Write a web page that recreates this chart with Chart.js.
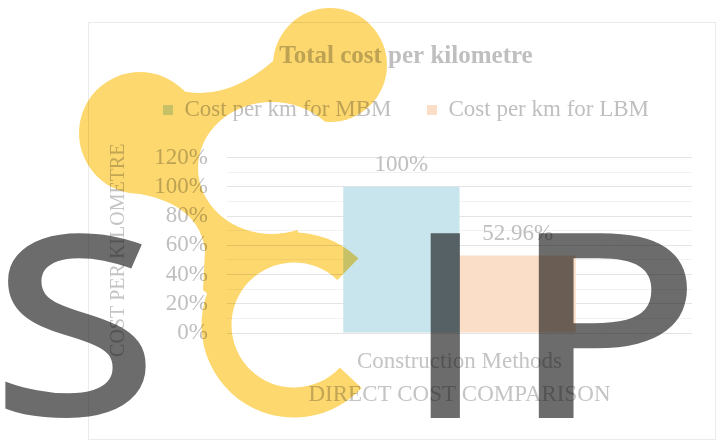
<!DOCTYPE html>
<html>
<head>
<meta charset="utf-8">
<script src="https://cdn.jsdelivr.net/npm/chart.js@4.4.1/dist/chart.umd.min.js"></script>
<style>
    html, body { margin: 0; padding: 0; background: #ffffff; }
    #wrap { width: 717px; height: 441px; }
</style>
</head>
<body>
<div id="wrap"><canvas id="costChart" width="717" height="441"></canvas></div>
<script>
// --- Chart data ---
const categories = [''];
const seriesNames = ['Cost per km for MBM', 'Cost per km for LBM'];
const mbmCost = [100];
const lbmCost = [52.96];
const barColors = ['#c8e4ec', '#fbdec7'];

const textGrey = '#bfbfbf';
const serif = "'Liberation Serif', 'Times New Roman', serif";

// --- SCIP watermark (yellow blob + letters), multiplied over the chart ---
function fitLetter(g, ch, x0, y0, x1, y1) {
    const lw = 6; // thickens the regular weight a bit
    g.save();
    g.font = "200px 'Open Sans', 'DejaVu Sans', sans-serif";
    g.textAlign = 'left';
    g.textBaseline = 'alphabetic';
    const m = g.measureText(ch);
    const w = m.actualBoundingBoxLeft + m.actualBoundingBoxRight + lw;
    const h = m.actualBoundingBoxAscent + m.actualBoundingBoxDescent + lw;
    const sx = (x1 - x0) / w, sy = (y1 - y0) / h;
    g.translate(x0 + (m.actualBoundingBoxLeft + lw / 2) * sx, y0 + (m.actualBoundingBoxAscent + lw / 2) * sy);
    g.scale(sx, sy);
    g.lineWidth = lw;
    g.lineJoin = 'miter';
    g.fillText(ch, 0, 0);
    g.strokeText(ch, 0, 0);
    g.restore();
}

function buildWatermark() {
    const c = document.createElement('canvas');
    c.width = 717;
    c.height = 441;
    const g = c.getContext('2d');
    g.fillStyle = '#fdd86e';

    // round ends
    g.beginPath(); g.arc(140, 133, 61, 0, Math.PI * 2); g.fill();
    g.beginPath(); g.arc(330, 65, 57, 0, Math.PI * 2); g.fill();

    // neck between the two round ends
    g.beginPath();
    g.moveTo(143, 72);
    g.quadraticCurveTo(212, 123, 285, 50);
    g.lineTo(320, 110); g.lineTo(250, 160); g.lineTo(150, 150);
    g.closePath(); g.fill();

    // stem down to the lower C
    g.beginPath();
    g.moveTo(140, 194);
    g.quadraticCurveTo(199, 205, 205, 250);
    g.lineTo(203, 290); g.lineTo(215, 300); g.lineTo(300, 236);
    g.lineTo(260, 150); g.lineTo(150, 150);
    g.closePath(); g.fill();

    // hollow of the upper C
    g.globalCompositeOperation = 'destination-out';
    g.beginPath(); g.ellipse(272, 168, 74, 66, 0, 0, Math.PI * 2); g.fill();
    g.globalCompositeOperation = 'source-over';

    // lower C ring
    const a0 = 43 * Math.PI / 180, a1 = 314 * Math.PI / 180;
    g.beginPath();
    g.arc(294, 325, 92.5, a0, a1);
    g.arc(294, 325, 62.5, a1, a0, true);
    g.closePath(); g.fill();

    // letters
    g.fillStyle = '#6c6c6c';
    g.strokeStyle = '#6c6c6c';
    fitLetter(g, 'S', 5, 233, 147, 418);
    fitLetter(g, 'I', 430, 233, 461, 418);
    fitLetter(g, 'P', 538, 233, 687, 418);
    return c;
}

const frame = {
    id: 'frame',
    beforeDraw(chart) {
        const ctx = chart.ctx;
        ctx.save();
        ctx.fillStyle = '#ffffff';
        ctx.fillRect(0, 0, chart.width, chart.height);
        ctx.strokeStyle = '#ebebeb';
        ctx.lineWidth = 1;
        ctx.strokeRect(88.5, 22.5, 627, 417);
        ctx.restore();
    }
};

const barLabels = {
    id: 'barLabels',
    afterDatasetsDraw(chart) {
        const ctx = chart.ctx;
        ctx.save();
        ctx.font = '23px ' + serif;
        ctx.fillStyle = textGrey;
        ctx.textAlign = 'center';
        ctx.textBaseline = 'middle';
        chart.data.datasets.forEach((ds, i) => {
            chart.getDatasetMeta(i).data.forEach((bar, j) => {
                ctx.fillText(ds.data[j] + '%', bar.x, bar.y - 22);
            });
        });
        ctx.restore();
    }
};

const watermark = {
    id: 'watermark',
    afterDraw(chart) {
        const ctx = chart.ctx;
        ctx.save();
        ctx.globalCompositeOperation = 'multiply';
        ctx.drawImage(buildWatermark(), 0, 0);
        ctx.restore();
    }
};

Chart.defaults.font.family = serif;
Chart.defaults.color = textGrey;

new Chart(document.getElementById('costChart'), {
    type: 'bar',
    data: {
        labels: categories,
        datasets: [
            { label: seriesNames[0], data: mbmCost, backgroundColor: barColors[0] },
            { label: seriesNames[1], data: lbmCost, backgroundColor: barColors[1] }
        ]
    },
    options: {
        responsive: false,
        animation: false,
        layout: { padding: { top: 22, left: 96, right: 1, bottom: 29.5 } },
        datasets: {
            bar: { categoryPercentage: 0.5, barPercentage: 1.0 }
        },
        plugins: {
            title: {
                display: true,
                text: 'Total cost per kilometre',
                color: textGrey,
                font: { size: 25, weight: 'bold', lineHeight: 1.2 },
                padding: { top: 20, bottom: -9 }
            },
            // empty spacer between legend and plot
            subtitle: {
                display: true,
                text: '',
                weight: 500,
                font: { size: 10, lineHeight: 1 },
                padding: { top: 16, bottom: 0 }
            },
            legend: {
                position: 'top',
                labels: {
                    color: textGrey,
                    font: { size: 23 },
                    boxWidth: 10,
                    boxHeight: 10,
                    padding: 35.5
                }
            },
            tooltip: { enabled: false }
        },
        scales: {
            x: {
                grid: { display: false },
                border: { display: false },
                ticks: { display: false },
                title: {
                    display: true,
                    text: ['Construction Methods', 'DIRECT COST COMPARISON'],
                    color: '#c4c4c4',
                    font: { size: 23, lineHeight: 1.435 },
                    padding: { top: 0, bottom: 0 }
                },
                afterFit: (scale) => { scale.height = 78.5; }
            },
            y: {
                min: 0,
                max: 120,
                border: { display: false },
                grid: {
                    drawTicks: false,
                    color: (c) => (c.tick && c.tick.value % 20 === 0) ? '#e4e4e4' : '#f2f2f2'
                },
                ticks: {
                    stepSize: 10,
                    autoSkip: false,
                    padding: 19,
                    color: textGrey,
                    font: { size: 23 },
                    callback: (v) => (v % 20 === 0 ? v + '%' : '')
                },
                title: {
                    display: true,
                    text: 'COST PER KILOMETRE  ',
                    color: '#c4c4c4',
                    font: { size: 20, lineHeight: 1.2 },
                    padding: { top: 11, bottom: 0 }
                },
                afterFit: (scale) => { scale.width = 131; }
            },
            yRight: {
                position: 'right',
                display: true,
                grid: { display: false },
                border: { display: false },
                ticks: { display: false },
                afterFit: (scale) => { scale.width = 24; }
            }
        }
    },
    plugins: [frame, barLabels, watermark]
});
</script>
</body>
</html>
